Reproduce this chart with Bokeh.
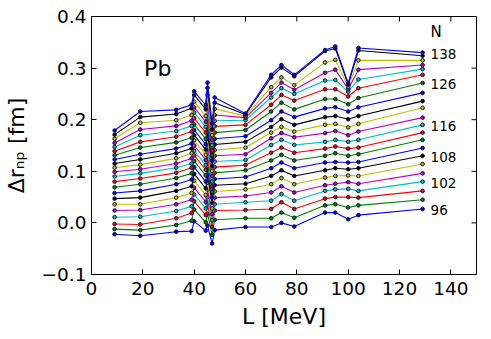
import math
from bokeh.plotting import figure
from bokeh.models import Range1d, FixedTicker, CustomJSTickFormatter, ColumnDataSource, Label
from bokeh.embed import file_html
from bokeh.resources import INLINE

# ---------------- data ----------------
L_MeV = [9, 19, 33, 39, 40, 44.5, 45.2, 47, 48, 60, 70, 74, 79, 91, 95, 100, 104, 129]
N_values = [138, 136, 134, 132, 130, 128, 126, 124, 122, 120, 118,
            116, 114, 112, 110, 108, 106, 104, 102, 100, 98, 96]

# each column: delta r_np [fm] for N = 138 ... 96 at one L value
col_09 = [0.179, 0.171, 0.163, 0.155, 0.147, 0.139, 0.131, 0.123, 0.115, 0.107, 0.099,
          0.090, 0.080, 0.069, 0.058, 0.047, 0.036, 0.024, 0.011, -0.002, -0.012, -0.022]
col_19 = [0.216, 0.205, 0.194, 0.181, 0.170, 0.157, 0.146, 0.133, 0.123, 0.113, 0.104,
          0.096, 0.086, 0.075, 0.062, 0.049, 0.036, 0.025, 0.012, -0.003, -0.014, -0.025]
col_33 = [0.219, 0.211, 0.199, 0.188, 0.178, 0.167, 0.156, 0.144, 0.135, 0.125, 0.115,
          0.107, 0.097, 0.087, 0.075, 0.062, 0.049, 0.036, 0.023, 0.009, -0.004, -0.017]
col_39 = [0.229, 0.222, 0.209, 0.198, 0.188, 0.177, 0.165, 0.154, 0.144, 0.135, 0.125,
          0.115, 0.107, 0.096, 0.084, 0.071, 0.058, 0.045, 0.032, 0.019, 0.004, -0.016]
col_40 = [0.255, 0.248, 0.235, 0.224, 0.214, 0.203, 0.191, 0.180, 0.170, 0.160, 0.150,
          0.140, 0.131, 0.120, 0.108, 0.095, 0.082, 0.068, 0.055, 0.042, 0.026, 0.003]
col_44 = [0.228, 0.220, 0.207, 0.196, 0.186, 0.175, 0.163, 0.152, 0.142, 0.132, 0.122,
          0.112, 0.103, 0.092, 0.080, 0.067, 0.054, 0.041, 0.028, 0.015, 0.001, -0.015]
col_45 = [0.272, 0.262, 0.248, 0.236, 0.224, 0.211, 0.198, 0.186, 0.175, 0.163, 0.152,
          0.141, 0.130, 0.118, 0.105, 0.092, 0.078, 0.064, 0.050, 0.036, 0.018, -0.005]
col_47 = [0.192, 0.181, 0.170, 0.161, 0.151, 0.140, 0.131, 0.121, 0.110, 0.101, 0.091,
          0.080, 0.071, 0.060, 0.049, 0.039, 0.028, 0.017, 0.005, -0.008, -0.023, -0.040]
col_48 = [0.243, 0.233, 0.221, 0.209, 0.198, 0.187, 0.175, 0.163, 0.152, 0.141, 0.130,
          0.119, 0.108, 0.097, 0.085, 0.073, 0.061, 0.049, 0.036, 0.024, 0.006, -0.014]
col_60 = [0.212, 0.210, 0.207, 0.204, 0.199, 0.190, 0.180, 0.168, 0.157, 0.146, 0.133,
          0.122, 0.112, 0.102, 0.089, 0.076, 0.065, 0.052, 0.040, 0.025, 0.009, -0.008]
col_70 = [0.287, 0.282, 0.263, 0.252, 0.243, 0.229, 0.216, 0.199, 0.186, 0.175, 0.164,
          0.151, 0.136, 0.121, 0.106, 0.091, 0.075, 0.059, 0.043, 0.027, 0.009, -0.008]
col_74 = [0.306, 0.301, 0.282, 0.272, 0.261, 0.248, 0.233, 0.216, 0.201, 0.186, 0.174,
          0.161, 0.146, 0.132, 0.117, 0.102, 0.087, 0.071, 0.056, 0.040, 0.020, 0.000]
col_79 = [0.287, 0.284, 0.267, 0.258, 0.250, 0.237, 0.220, 0.205, 0.190, 0.177, 0.166,
          0.151, 0.136, 0.121, 0.106, 0.091, 0.075, 0.059, 0.043, 0.027, 0.010, -0.007]
col_91 = [0.335, 0.333, 0.311, 0.291, 0.276, 0.259, 0.240, 0.222, 0.205, 0.190, 0.174,
          0.157, 0.144, 0.130, 0.117, 0.102, 0.088, 0.073, 0.062, 0.047, 0.034, 0.020]
col_95 = [0.342, 0.338, 0.316, 0.297, 0.277, 0.259, 0.240, 0.224, 0.207, 0.192, 0.178,
          0.161, 0.148, 0.135, 0.118, 0.106, 0.091, 0.076, 0.065, 0.050, 0.036, 0.020]
col_100 = [0.271, 0.268, 0.264, 0.259, 0.254, 0.245, 0.230, 0.216, 0.201, 0.185, 0.170,
           0.157, 0.144, 0.130, 0.117, 0.104, 0.092, 0.079, 0.066, 0.050, 0.030, 0.007]
col_104 = [0.339, 0.334, 0.315, 0.297, 0.278, 0.261, 0.242, 0.224, 0.207, 0.192, 0.177,
           0.161, 0.146, 0.133, 0.118, 0.106, 0.091, 0.076, 0.062, 0.049, 0.034, 0.015]
col_129 = [0.330, 0.324, 0.315, 0.306, 0.298, 0.287, 0.271, 0.252, 0.236, 0.223, 0.204,
           0.190, 0.175, 0.161, 0.145, 0.130, 0.114, 0.096, 0.080, 0.062, 0.045, 0.027]

columns = [col_09, col_19, col_33, col_39, col_40, col_44, col_45, col_47, col_48,
           col_60, col_70, col_74, col_79, col_91, col_95, col_100, col_104, col_129]

labelled_N = [138, 126, 116, 108, 102, 96]
x_ticks = [0, 20, 40, 60, 80, 100, 120, 140]
y_ticks = [-0.1, 0.0, 0.1, 0.2, 0.3, 0.4]

# ---------------- style ----------------
FONT = "DejaVu Sans"
cycle = ["#0000ff", "#008000", "#ff0000", "#00bfbf", "#bf00bf", "#bfbf00", "#000000"]

p = figure(width=482, height=331, output_backend="svg", toolbar_location=None,
           x_range=Range1d(0, 150), y_range=Range1d(-0.1, 0.4),
           min_border_left=85, min_border_right=6, min_border_top=16, min_border_bottom=57)
p.grid.visible = False
p.outline_line_color = "black"
p.outline_line_width = 1
p.background_fill_color = "white"
p.border_fill_color = "white"

for ax in (p.xaxis[0], p.yaxis[0]):
    ax.major_tick_in = 5
    ax.major_tick_out = 0
    ax.minor_tick_line_color = None
    ax.major_label_text_font = FONT
    ax.major_label_text_font_size = "18.5px"
    ax.major_label_text_color = "black"
    ax.axis_label_text_font = FONT
    ax.axis_label_text_font_size = "22px"
    ax.axis_label_text_font_style = "normal"
    ax.axis_label_text_color = "black"
    ax.axis_line_color = "black"
    ax.major_tick_line_color = "black"

p.xaxis.ticker = FixedTicker(ticks=x_ticks)
p.yaxis.ticker = FixedTicker(ticks=y_ticks)
p.yaxis.formatter = CustomJSTickFormatter(code="return tick.toFixed(1).replace('-', '\u2212');")
p.xaxis.axis_label = "L [MeV]"
p.yaxis.axis_label = "\u0394r\u2099\u209a [fm]"
p.xaxis.major_label_standoff = 7
p.yaxis.major_label_standoff = 5
p.xaxis.axis_label_standoff = 6
p.yaxis.axis_label_standoff = 10

# mirrored inward ticks on the top and right edges (clipped to the frame)
y_top = p.y_range.end
x_right = p.x_range.end
p.scatter(x=x_ticks, y=[y_top] * len(x_ticks), marker="dash", angle=math.pi / 2,
          size=10, line_color="black", line_width=1)
p.scatter(x=[x_right] * len(y_ticks), y=y_ticks, marker="dash",
          size=10, line_color="black", line_width=1)

# ---------------- lines ----------------
for i in range(len(N_values) - 1, -1, -1):
    N = N_values[i]
    color = cycle[((N - 96) // 2) % 7]
    ys = [col[i] for col in columns]
    src = ColumnDataSource(dict(x=L_MeV, y=ys))
    p.line("x", "y", source=src, line_color=color, line_width=1.1)
    p.scatter("x", "y", source=src, marker="circle", size=3.6,
              fill_color=color, line_color="#101030", line_width=1.0)

# N labels at the right end of the chosen lines
lab_x, lab_y, lab_t = [], [], []
for N in labelled_N:
    i = N_values.index(N)
    lab_x.append(L_MeV[-1])
    lab_y.append(columns[-1][i])
    lab_t.append(str(N))
p.text(x="x", y="y", text="t", source=ColumnDataSource(dict(x=lab_x, y=lab_y, t=lab_t)),
       x_offset=8, y_offset=1, text_baseline="middle", text_align="left",
       text_font_size="13.5px", text_color="black", text_font={"value": FONT})

p.add_layout(Label(x=L_MeV[-1], y=0.37, text="N", x_offset=8, text_baseline="middle",
                   text_font=FONT, text_font_size="15px", text_color="black"))
p.add_layout(Label(x=20.5, y=0.300, text="Pb", text_baseline="alphabetic",
                   text_font=FONT, text_font_size="22px", text_color="black"))

open("out.html", "w").write(file_html(p, INLINE))
